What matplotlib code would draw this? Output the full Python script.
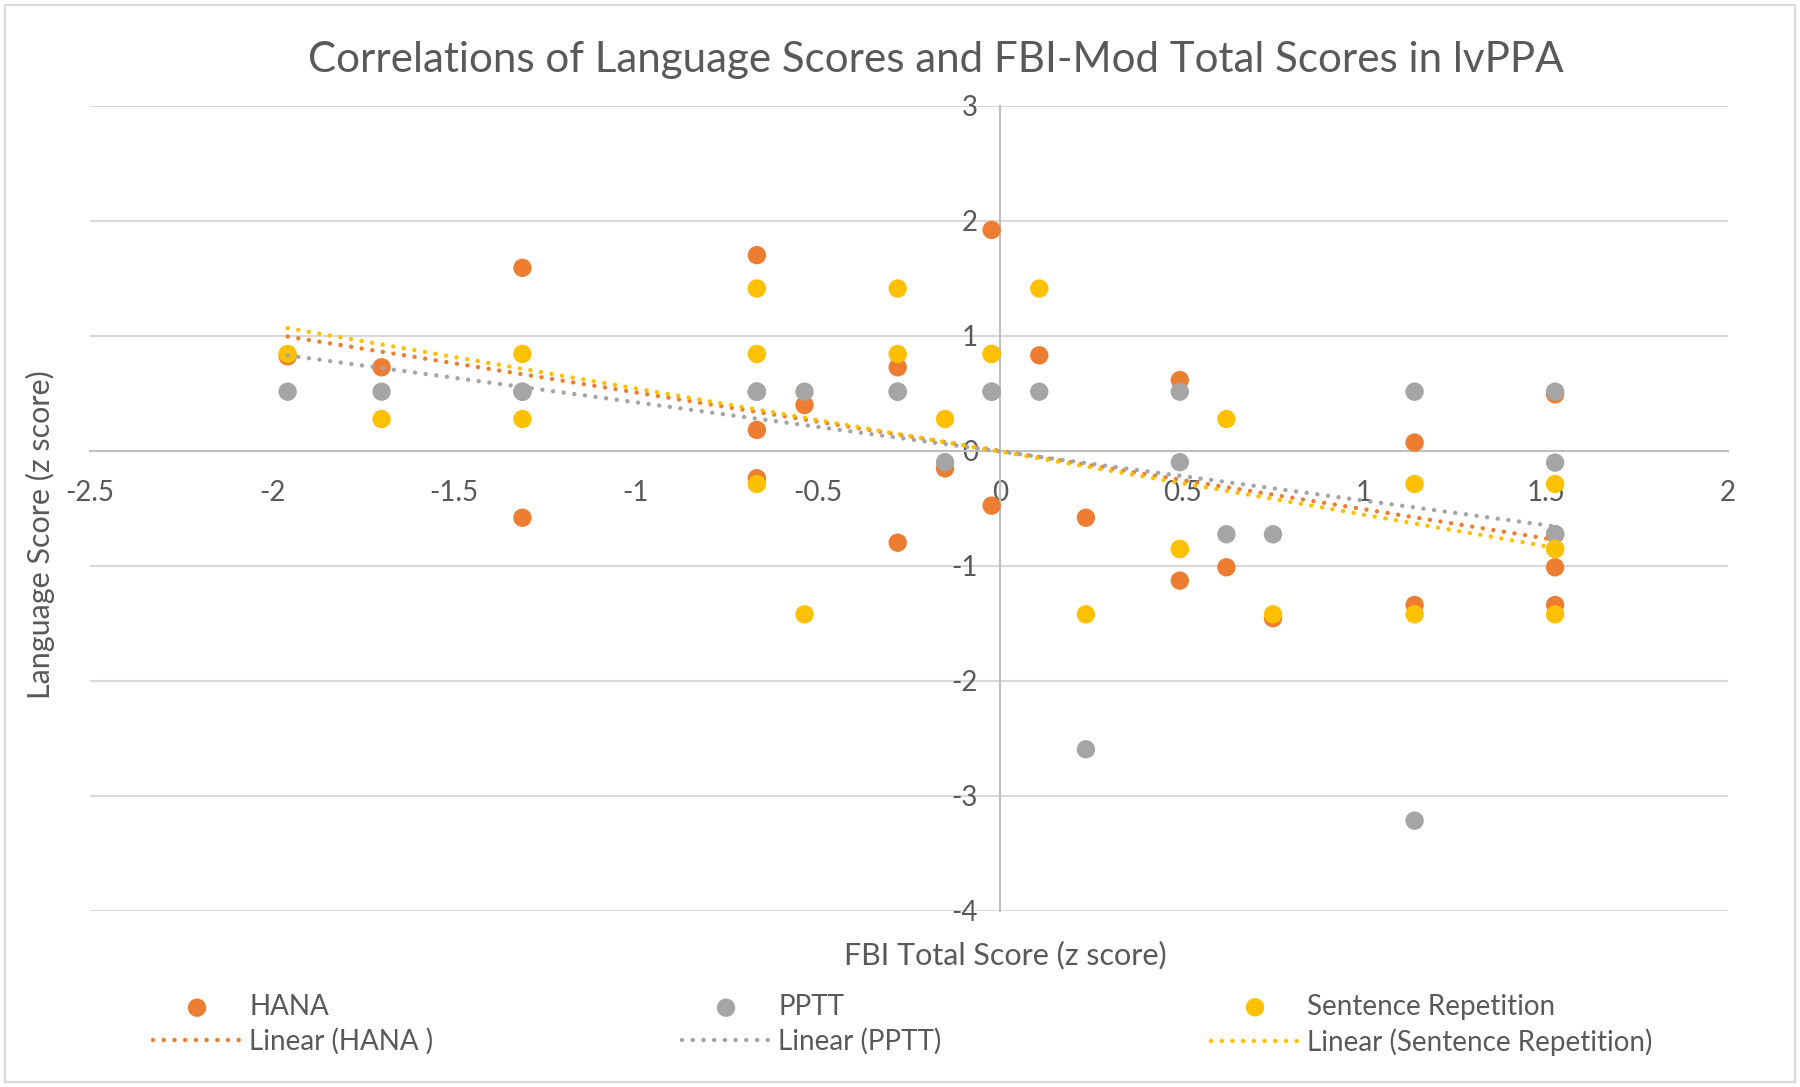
import numpy as np
import matplotlib
matplotlib.use("Agg")
from matplotlib import pyplot as plt
from matplotlib.patches import Rectangle

# FBI total score (z) and language scores
# (some points sit exactly on top of others, so they are listed twice)
hana_x = [-1.957, -1.699, -1.312, -1.312, -0.668, -0.668, -0.668, -0.537, -0.281, -0.281,
          -0.151, -0.023, -0.023, 0.108, 0.236, 0.494, 0.494, 0.622, 0.750, 1.139, 1.139,
          1.525, 1.525, 1.525, 1.525]
hana_y = [0.82, 0.725, 1.59, -0.583, 1.70, 0.18, -0.24, 0.397, 0.725, -0.80,
          -0.154, 1.919, -0.478, 0.829, -0.583, 0.614, -1.13, -1.014, -1.457, 0.07, -1.342,
          0.49, -0.727, -1.014, -1.342]

pptt_x = [-1.957, -1.699, -1.312, -1.312, -0.668, -0.668, -0.668, -0.537, -0.281, -0.281,
          -0.151, -0.023, -0.023, 0.108, 0.236, 0.494, 0.494, 0.622, 0.750, 1.139, 1.139,
          1.525, 1.525, 1.525, 1.525]
pptt_y = [0.513, 0.513, 0.513, 0.513, 0.513, 0.513, 0.513, 0.513, 0.513, 0.513,
          -0.10, 0.513, 0.513, 0.513, -2.597, 0.513, -0.10, -0.727, -0.727, 0.513, -3.217,
          0.513, -0.104, -0.727, -0.727]

sr_x = [-1.957, -1.699, -1.312, -1.312, -0.668, -0.668, -0.668, -0.537, -0.281, -0.281,
        -0.151, -0.023, -0.023, 0.108, 0.236, 0.494, 0.494, 0.622, 0.750, 1.139, 1.139,
        1.525, 1.525, 1.525, 1.525]
sr_y = [0.841, 0.275, 0.841, 0.275, 1.41, 0.841, -0.29, -1.423, 1.41, 0.841,
        0.275, 0.841, 0.841, 1.41, -1.423, -0.855, -0.855, 0.275, -1.423, -0.29, -1.423,
        -0.29, -0.855, -0.855, -1.423]

x_ticks = [-2.5, -2, -1.5, -1, -0.5, 0, 0.5, 1, 1.5, 2]
y_ticks = [-4, -3, -2, -1, 0, 1, 2, 3]

series = [("HANA", hana_x, hana_y, "#ED7D31", "Linear (HANA )"),
          ("PPTT", pptt_x, pptt_y, "#A5A5A5", "Linear (PPTT)"),
          ("Sentence Repetition", sr_x, sr_y, "#FFC000", "Linear (Sentence Repetition)")]

plt.rcParams['font.family'] = ['Lato', 'DejaVu Sans']
txt = "#595959"

fig = plt.figure(figsize=(18, 10.87), dpi=100)
ax = fig.add_axes([0.05, 0.1622, 0.91, 0.7406])

handles = []
for name, xs, ys, col, tname in series:
    sc = ax.scatter(xs, ys, s=175, color=col, edgecolors='none', zorder=3, label=name)
    handles.append(sc)
for name, xs, ys, col, tname in series:
    m, b = np.polyfit(xs, ys, 1)
    xx = np.array([min(xs), max(xs)])
    ln, = ax.plot(xx, m * xx + b, color=col, lw=3.2, linestyle=(0, (0.01, 2.4)),
                  dash_capstyle='round', zorder=4, label=tname)
    handles.append(ln)

ax.set_xlim(-2.5, 2)
ax.set_ylim(-4, 3)
ax.set_xticks(x_ticks)
ax.set_xticklabels([f"{v:g}" for v in x_ticks])
ax.set_yticks(y_ticks)
ax.set_yticklabels([f"{v:g}" for v in y_ticks])
ax.tick_params(length=0, labelsize=20, labelcolor=txt)
ax.tick_params(axis='x', pad=21)
ax.tick_params(axis='y', pad=16)
ax.spines['left'].set_position('zero')
ax.spines['bottom'].set_position('zero')
for s in ['left', 'bottom']:
    ax.spines[s].set_color('#bfbfbf')
    ax.spines[s].set_linewidth(1.5)
for s in ['top', 'right']:
    ax.spines[s].set_visible(False)
ax.yaxis.grid(True, color='#d9d9d9', lw=1.5)
ax.set_axisbelow(True)

fig.text(0.52, 0.945, "Correlations of Language Scores and FBI-Mod Total Scores in lvPPA",
         ha='center', va='center', fontsize=30.3, color=txt)
fig.text(0.5585, 0.1214, "FBI Total Score (z score)", ha='center', va='center',
         fontsize=22, color=txt)
fig.text(0.0222, 0.508, "Language Score (z score)", ha='center', va='center',
         rotation=90, fontsize=22, color=txt)

for i, x0 in enumerate([153, 682, 1211]):
    fig.legend(handles=[handles[i], handles[i + 3]], loc='center left',
               bbox_to_anchor=(x0 / 1800, 0.0574), frameon=False, fontsize=20,
               handlelength=3.17, handletextpad=0.29, labelspacing=0.3,
               borderpad=0, borderaxespad=0, labelcolor=txt)

fig.patches.append(Rectangle((0.003, 0.005), 0.994, 0.99, transform=fig.transFigure,
                             fill=False, edgecolor='#d9d9d9', lw=1.5))

fig.savefig("out.png", dpi=100, facecolor='white')
